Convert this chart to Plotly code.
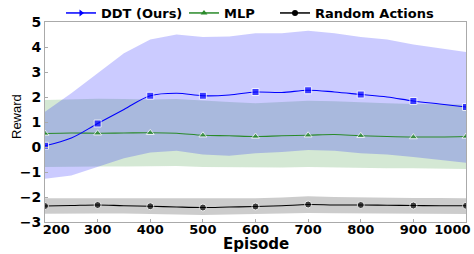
import plotly.graph_objects as go

episodes = [200, 250, 300, 350, 400, 450, 500, 550, 600, 650, 700, 750, 800, 850, 900, 950, 1000]

ddt_mean = [0.05, 0.36, 0.94, 1.50, 2.05, 2.15, 2.05, 2.08, 2.20, 2.18, 2.27, 2.20, 2.10, 2.00, 1.84, 1.72, 1.60]
ddt_upper = [1.41, 2.15, 2.95, 3.75, 4.30, 4.50, 4.40, 4.42, 4.55, 4.55, 4.65, 4.55, 4.40, 4.30, 4.10, 3.95, 3.80]
ddt_lower = [-1.27, -1.14, -0.80, -0.45, -0.22, -0.15, -0.30, -0.35, -0.25, -0.20, -0.12, -0.15, -0.25, -0.30, -0.40, -0.50, -0.63]

mlp_mean = [0.54, 0.56, 0.55, 0.56, 0.57, 0.55, 0.47, 0.45, 0.42, 0.45, 0.47, 0.50, 0.45, 0.42, 0.40, 0.40, 0.42]
mlp_upper = [1.88, 1.92, 1.93, 1.92, 1.90, 1.92, 1.85, 1.80, 1.75, 1.80, 1.85, 1.83, 1.78, 1.75, 1.72, 1.70, 1.70]
mlp_lower = [-0.80, -0.80, -0.78, -0.78, -0.78, -0.76, -0.80, -0.82, -0.82, -0.82, -0.80, -0.82, -0.84, -0.85, -0.85, -0.86, -0.88]

rand_mean = [-2.36, -2.34, -2.32, -2.35, -2.37, -2.40, -2.42, -2.40, -2.38, -2.35, -2.30, -2.32, -2.32, -2.33, -2.34, -2.35, -2.35]
rand_upper = [-2.05, -2.05, -2.04, -2.05, -2.05, -2.06, -2.07, -2.06, -2.05, -2.02, -1.97, -2.00, -2.02, -2.03, -2.04, -2.04, -2.05]
rand_lower = [-2.67, -2.68, -2.66, -2.66, -2.67, -2.70, -2.72, -2.70, -2.68, -2.66, -2.64, -2.65, -2.66, -2.67, -2.68, -2.68, -2.68]

series_names = ["DDT (Ours)", "MLP", "Random Actions"]
x_ticks = [200, 300, 400, 500, 600, 700, 800, 900, 1000]
NB = "\u00a0"
x_tick_labels = [NB * 5 + "200", "300", "400", "500", "600", "700", "800", "900", "1000" + NB * 6]
x_title = "Episode"
y_title = "Reward"

BOLD = "DejaVu Sans, sans-serif"
PLAIN = "Liberation Sans, Arial, sans-serif"

fig = go.Figure()

def band(upper, lower, color):
    fig.add_trace(go.Scatter(
        x=episodes + episodes[::-1], y=upper + lower[::-1],
        fill="toself", fillcolor=color, line=dict(width=0),
        mode="lines", showlegend=False, hoverinfo="skip"))

band(rand_upper, rand_lower, "rgba(0,0,0,0.2)")
band(mlp_upper, mlp_lower, "rgba(40,140,40,0.2)")
band(ddt_upper, ddt_lower, "rgba(20,20,255,0.22)")

sizes = [7 if i % 2 == 0 else 0 for i in range(len(episodes))]

def line(y, color, symbol, name, legend_symbol, legend_id):
    fig.add_trace(go.Scatter(
        x=episodes, y=y, mode="lines+markers", line=dict(color=color, width=1.1, shape="spline"),
        marker=dict(symbol=symbol, size=sizes, color=color), showlegend=False))
    fig.add_trace(go.Scatter(
        x=[None], y=[None], mode="lines+markers", name=name, legend=legend_id,
        line=dict(color=color, width=1.5), marker=dict(symbol=legend_symbol, size=6, color=color)))

line(rand_mean, "#000000", "circle", series_names[2], "circle", "legend3")
line(mlp_mean, "#2a8a2a", "triangle-up", series_names[1], "triangle-up", "legend2")
line(ddt_mean, "#0000ff", "square", series_names[0], "triangle-right", "legend")

def leg(xpx):
    return dict(orientation="h", xref="container", yref="container",
                x=xpx / 474, xanchor="left", y=1 - 13 / 254, yanchor="middle",
                font=dict(size=13, family=BOLD, weight="bold"), bgcolor="rgba(0,0,0,0)",
                borderwidth=0)

fig.add_annotation(text=x_title, xref="paper", yref="paper", x=(256 - 45) / 421,
                   y=-(244 - 222) / 200, xanchor="center", yanchor="middle", showarrow=False,
                   font=dict(size=15, family=BOLD, weight="bold", color="black"))
fig.add_annotation(text=y_title, xref="paper", yref="paper", x=-(45 - 16) / 421,
                   y=(222 - 117) / 200, xanchor="center", yanchor="middle", showarrow=False,
                   textangle=-90, font=dict(size=13, family=PLAIN, color="black"))

fig.update_layout(
    width=474, height=254,
    margin=dict(l=45, r=8, t=22, b=32, autoexpand=False),
    paper_bgcolor="white", plot_bgcolor="white",
    font=dict(family=BOLD, color="black"),
    showlegend=True,
    legend=leg(61), legend2=leg(184), legend3=leg(275),
    xaxis=dict(range=[200, 1000], tickvals=x_ticks, ticktext=x_tick_labels,
               ticks="inside", ticklen=3, tickcolor="#aaaaaa", ticklabeloverflow="allow",
               ticklabelstandoff=-5,
               tickfont=dict(size=13, family=BOLD, weight="bold"),
               showgrid=False, zeroline=False, showline=True, linecolor="#aaaaaa", mirror=True),
    yaxis=dict(range=[-3, 5], dtick=1, ticks="inside", ticklen=3, tickcolor="#aaaaaa",
               tickfont=dict(size=14, family=BOLD, weight="bold"),
               showgrid=False, zeroline=False, showline=True, linecolor="#aaaaaa", mirror=True),
)

fig.write_html("out.html", config={"displayModeBar": False},
               post_script="document.body.style.margin='0px';")
